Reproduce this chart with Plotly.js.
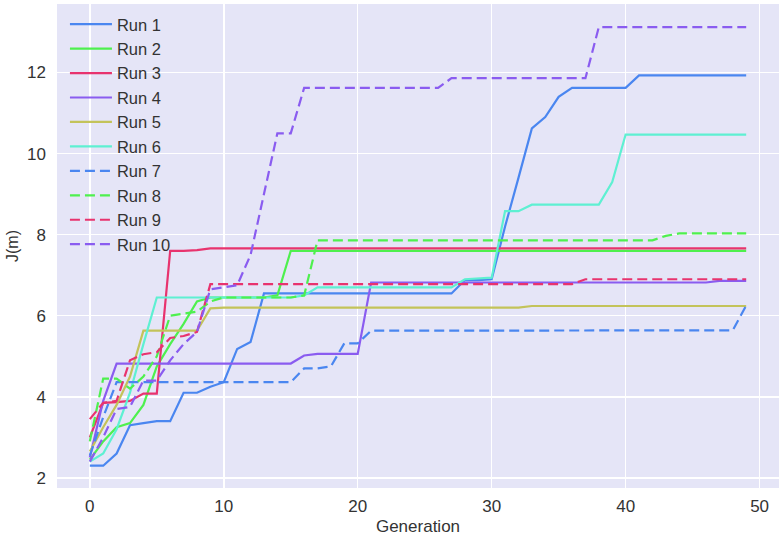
<!DOCTYPE html>
<html>
<head>
<meta charset="utf-8">
<script src="https://cdn.plot.ly/plotly-3.0.1.min.js"></script>
<style>html,body{margin:0;padding:0;background:#fff;}#chart{width:783px;height:539px;}</style>
</head>
<body>
<div id="chart"></div>
<script>
const generations = Array.from({length: 50}, (_, i) => i);
const seriesNames = ["Run 1","Run 2","Run 3","Run 4","Run 5","Run 6","Run 7","Run 8","Run 9","Run 10"];

const run1 = [2.3,2.3,2.6,3.3,3.35,3.4,3.4,4.1,4.1,4.25,4.36,5.18,5.35,
  6.55,6.55,6.55,6.55,6.55,6.55,6.55,6.55,6.55,6.55,6.55,6.55,6.55,6.55,6.55,
  6.88,6.88,6.9,8.2,9.4,10.62,10.9,11.4,11.62,11.62,11.62,11.62,11.62,
  11.93,11.93,11.93,11.93,11.93,11.93,11.93,11.93,11.93];
const run2 = [2.45,2.9,3.25,3.35,3.8,4.75,5.3,5.8,6.35,6.45,6.45,6.45,6.45,6.45,6.5,
  7.6,7.6,7.6,7.6,7.6,7.6,7.6,7.6,7.6,7.6,7.6,7.6,7.6,7.6,7.6,7.6,7.6,7.6,7.6,7.6,
  7.6,7.6,7.6,7.6,7.6,7.6,7.6,7.6,7.6,7.6,7.6,7.6,7.6,7.6,7.6];
const run3 = [3.0,3.85,3.87,3.9,4.08,4.08,7.6,7.6,7.62,
  7.66,7.66,7.66,7.66,7.66,7.66,7.66,7.66,7.66,7.66,7.66,7.66,7.66,7.66,7.66,7.66,
  7.66,7.66,7.66,7.66,7.66,7.66,7.66,7.66,7.66,7.66,7.66,7.66,7.66,7.66,7.66,7.66,
  7.66,7.66,7.66,7.66,7.66,7.66,7.66,7.66,7.66];
const run4 = [2.5,3.9,4.82,4.82,4.82,4.82,4.82,4.82,4.82,4.82,4.82,4.82,4.82,4.82,4.82,4.82,
  5.02,5.06,5.06,5.06,5.06,
  6.82,6.82,6.82,6.82,6.82,6.82,6.82,6.82,6.82,6.82,6.82,6.82,6.82,6.82,6.82,6.82,6.82,
  6.82,6.82,6.82,6.82,6.82,6.82,6.82,6.82,6.82,6.86,6.86,6.86];
const run5 = [2.65,3.25,3.8,4.5,5.63,5.63,5.63,5.63,5.63,6.18,
  6.2,6.2,6.2,6.2,6.2,6.2,6.2,6.2,6.2,6.2,6.2,6.2,6.2,6.2,6.2,6.2,6.2,6.2,6.2,6.2,6.2,6.2,6.2,
  6.24,6.24,6.24,6.24,6.24,6.24,6.24,6.24,6.24,6.24,6.24,6.24,6.24,6.24,6.24,6.24,6.24];
const run6 = [2.4,2.6,3.2,4.1,5.3,
  6.45,6.45,6.45,6.45,6.45,6.45,6.45,6.45,6.45,6.45,6.45,6.5,
  6.7,6.7,6.7,6.7,6.7,6.7,6.7,6.7,6.7,6.7,6.7,6.9,6.92,6.94,8.58,8.58,
  8.74,8.74,8.74,8.74,8.74,8.74,9.3,
  10.47,10.47,10.47,10.47,10.47,10.47,10.47,10.47,10.47,10.47];
const run7 = [2.55,3.5,4.36,4.36,4.36,4.36,4.36,4.36,4.36,4.36,4.36,4.36,4.36,4.36,4.36,4.36,
  4.7,4.7,4.75,5.32,5.32,
  5.63,5.63,5.63,5.63,5.63,5.63,5.63,5.63,5.63,5.63,5.63,5.63,5.63,5.63,5.63,5.63,5.63,
  5.63,5.63,5.63,5.63,5.63,5.63,5.63,5.63,5.63,5.63,5.64,6.25];
const run8 = [2.9,4.45,4.45,4.2,4.5,5.0,6.0,6.05,6.1,6.35,6.45,6.45,6.45,6.45,6.45,6.45,6.5,
  7.86,7.86,7.86,7.86,7.86,7.86,7.86,7.86,7.86,7.86,7.86,7.86,7.86,7.86,7.86,7.86,7.86,
  7.86,7.86,7.86,7.86,7.86,7.86,7.86,7.86,7.86,7.97,8.03,8.03,8.03,8.03,8.03,8.03];
const run9 = [3.45,3.85,3.9,4.9,5.05,5.1,5.45,5.5,5.6,
  6.78,6.78,6.78,6.78,6.78,6.78,6.78,6.78,6.78,6.78,6.78,6.78,6.78,6.78,6.78,6.78,6.78,
  6.78,6.78,6.78,6.78,6.78,6.78,6.78,6.78,6.78,6.78,6.78,
  6.9,6.9,6.9,6.9,6.9,6.9,6.9,6.9,6.9,6.9,6.9,6.9,6.9];
const run10 = [2.4,3.0,3.7,3.75,4.4,4.4,4.9,5.3,5.6,6.65,6.7,6.75,7.5,9.0,10.5,10.5,
  11.62,11.62,11.62,11.62,11.62,11.62,11.62,11.62,11.62,11.62,11.62,
  11.86,11.86,11.86,11.86,11.86,11.86,11.86,11.86,11.86,11.86,11.86,
  13.12,13.12,13.12,13.12,13.12,13.12,13.12,13.12,13.12,13.12,13.12,13.12];

const allRuns = [run1,run2,run3,run4,run5,run6,run7,run8,run9,run10];
const palette = ["#4a86f0","#4ef04e","#e8336e","#8a5cf0","#c3c35a","#5ef0d2"];

const traces = allRuns.map((ys, i) => ({
  x: generations,
  y: ys,
  type: "scatter",
  mode: "lines",
  name: seriesNames[i],
  line: {color: palette[i % 6], width: 2.2, dash: i < 6 ? "solid" : "10px,5px"}
}));

const tickFont = {family: "Liberation Sans Narrow, Liberation Sans, Arial, sans-serif", size: 17, color: "#333"};
const layout = {
  width: 783, height: 539,
  margin: {l: 57, r: 4, t: 4, b: 51},
  paper_bgcolor: "#ffffff",
  plot_bgcolor: "#e5e5f7",
  showlegend: true,
  legend: {x: 0.011, y: 0.994, xanchor: "left", yanchor: "top", bgcolor: "rgba(0,0,0,0)", itemwidth: 42,
    font: {family: "Liberation Sans, Arial, sans-serif", size: 16.5, color: "#333"}},
  xaxis: {range: [-2.45, 51.45], dtick: 10, tick0: 0, showgrid: true, gridcolor: "#ffffff", gridwidth: 1.5,
    zeroline: false, showline: false, ticks: "", ticklabelstandoff: 6, tickfont: tickFont,
    title: {text: "Generation", font: {family: "Liberation Sans, Arial, sans-serif", size: 17, color: "#333"}, standoff: 5}},
  yaxis: {range: [1.75, 13.69], dtick: 2, tick0: 0, showgrid: true, gridcolor: "#ffffff", gridwidth: 1.5,
    zeroline: false, showline: false, ticks: "", ticklabelstandoff: 10, tickfont: tickFont,
    title: {text: "J(m)", font: {family: "Liberation Sans, Arial, sans-serif", size: 16, color: "#333"}, standoff: 4}}
};
Plotly.newPlot("chart", traces, layout, {displayModeBar: false, staticPlot: true});
</script>
</body>
</html>
